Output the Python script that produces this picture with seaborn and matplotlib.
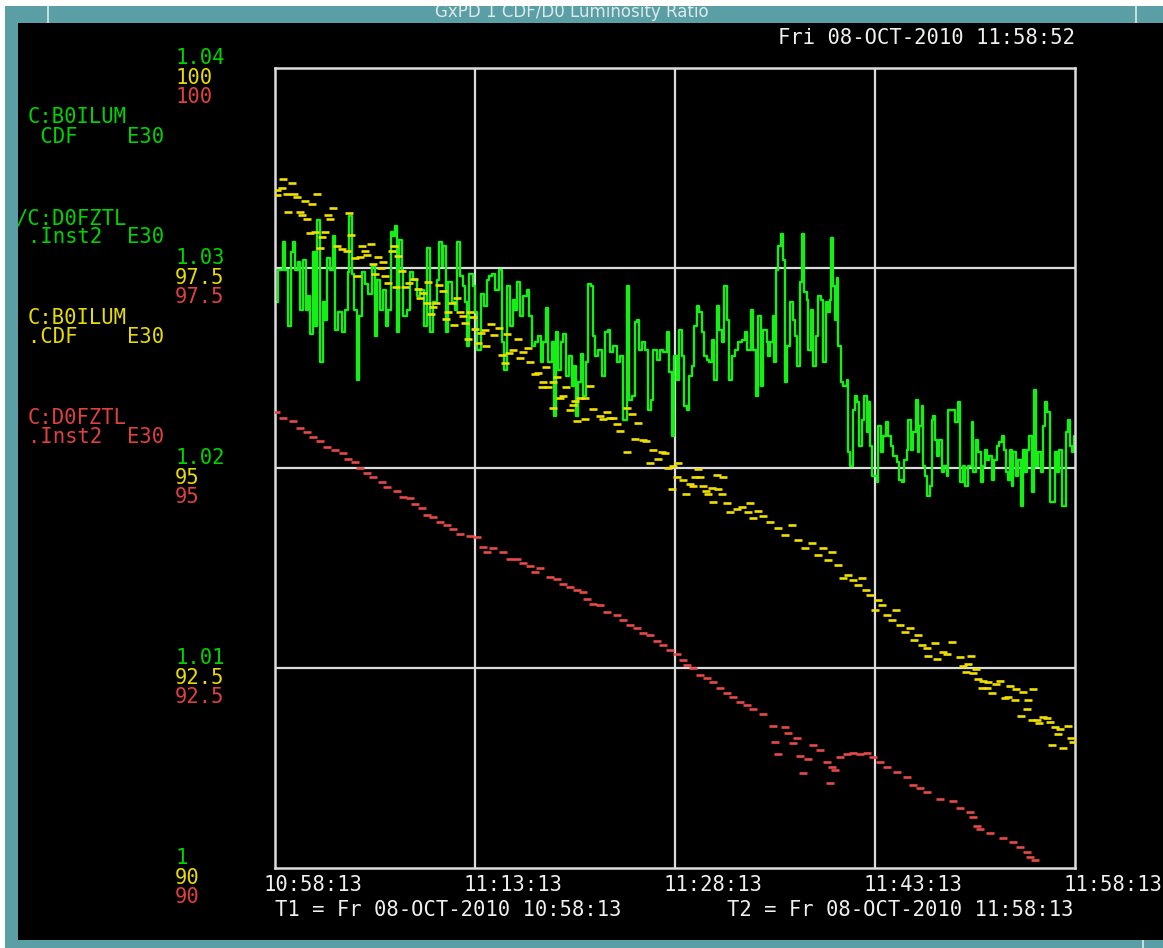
import matplotlib
matplotlib.use("Agg")
import matplotlib.pyplot as plt
import seaborn as sns
from matplotlib.patches import Rectangle
from matplotlib.transforms import ScaledTranslation, blended_transform_factory

# ---------------- data (minutes after T1 = 10:58:13) ----------------
time_ticks = [0, 15, 30, 45, 60]
time_tick_labels = ["10:58:13", "11:13:13", "11:28:13", "11:43:13", "11:58:13"]

ratio_ticks = [1.04, 1.03, 1.02, 1.01, 1.00]
ratio_tick_labels = ["1.04", "1.03", "1.02", "1.01", "1"]
lum_ticks = [100, 97.5, 95, 92.5, 90]
lum_tick_labels = ["100", "97.5", "95", "92.5", "90"]

# C:D0FZTL / C:B0ILUM ratio (green, 1.00 - 1.04)
green_time = [
    0.00, 0.23, 0.60, 0.75, 0.98, 1.20, 1.35, 1.50, 1.73, 1.88,
    2.10, 2.33, 2.48, 2.63, 2.85, 3.00, 3.15, 3.38, 3.60, 3.75,
    3.90, 4.13, 4.35, 4.50, 4.73, 5.03, 5.25, 5.48, 5.55, 5.78,
    5.93, 6.15, 6.30, 6.53, 6.75, 6.98, 7.28, 7.50, 7.65, 7.88,
    8.10, 8.33, 8.48, 8.70, 8.85, 9.00, 9.15, 9.30, 9.53, 9.60,
    9.90, 10.13, 10.35, 10.65, 10.88, 11.18, 11.40, 11.63, 11.85, 12.15,
    12.30, 12.53, 12.60, 12.83, 12.98, 13.28, 13.50, 13.65, 13.88, 14.10,
    14.25, 14.40, 14.55, 14.85, 15.00, 15.15, 15.45, 15.68, 15.90, 16.05,
    16.28, 16.50, 16.80, 17.03, 17.18, 17.40, 17.63, 17.85, 18.00, 18.15,
    18.38, 18.60, 18.90, 19.05, 19.28, 19.50, 19.73, 19.95, 20.10, 20.33,
    20.48, 20.78, 20.93, 21.08, 21.23, 21.45, 21.60, 21.83, 22.05, 22.28,
    22.43, 22.58, 22.73, 22.95, 23.10, 23.33, 23.48, 23.70, 23.85, 24.00,
    24.23, 24.53, 24.75, 24.98, 25.13, 25.35, 25.65, 25.88, 26.10, 26.40,
    26.55, 26.78, 27.00, 27.15, 27.30, 27.53, 27.75, 27.98, 28.20, 28.35,
    28.65, 28.88, 29.10, 29.40, 29.55, 29.78, 29.93, 30.00, 30.15, 30.30,
    30.53, 30.68, 30.90, 31.05, 31.28, 31.43, 31.65, 31.80, 32.03, 32.18,
    32.40, 32.55, 32.78, 32.93, 33.15, 33.30, 33.53, 33.68, 33.90, 34.05,
    34.28, 34.50, 34.73, 35.03, 35.25, 35.40, 35.70, 35.85, 36.08, 36.23,
    36.45, 36.60, 36.90, 36.98, 37.13, 37.35, 37.43, 37.58, 37.73, 37.95,
    38.10, 38.25, 38.40, 38.63, 38.85, 39.00, 39.15, 39.38, 39.53, 39.68,
    39.90, 39.98, 40.20, 40.35, 40.58, 40.73, 40.95, 41.10, 41.33, 41.48,
    41.63, 41.70, 41.85, 42.00, 42.15, 42.23, 42.45, 42.60, 42.90, 42.98,
    43.13, 43.35, 43.50, 43.65, 43.80, 44.03, 44.18, 44.40, 44.48, 44.63,
    44.78, 45.00, 45.15, 45.23, 45.45, 45.60, 45.83, 45.98, 46.20, 46.35,
    46.65, 46.80, 47.03, 47.18, 47.40, 47.48, 47.70, 47.85, 48.08, 48.23,
    48.30, 48.53, 48.60, 48.75, 48.90, 49.13, 49.28, 49.35, 49.50, 49.65,
    49.80, 50.03, 50.18, 50.40, 50.48, 50.78, 51.00, 51.23, 51.38, 51.60,
    51.75, 51.98, 52.28, 52.35, 52.58, 52.73, 52.95, 53.10, 53.25, 53.40,
    53.55, 53.78, 53.93, 54.15, 54.30, 54.53, 54.68, 54.83, 54.98, 55.13,
    55.28, 55.35, 55.58, 55.73, 55.95, 56.10, 56.25, 56.40, 56.55, 56.78,
    56.93, 57.08, 57.23, 57.45, 57.60, 57.75, 57.90, 58.13, 58.35, 58.50,
    58.65, 58.80, 59.03, 59.18, 59.33, 59.48, 59.63, 59.78, 59.93,
]
green_ratio = [
    1.0283, 1.0299, 1.0313, 1.0299, 1.0271, 1.0308, 1.0313, 1.0299, 1.0303, 1.0279,
    1.0304, 1.0279, 1.0286, 1.0267, 1.0308, 1.0271, 1.0324, 1.0253, 1.0283, 1.0274,
    1.0305, 1.0299, 1.0316, 1.0269, 1.0278, 1.0268, 1.0279, 1.0298, 1.0326, 1.0297,
    1.0279, 1.0244, 1.0276, 1.0298, 1.0292, 1.0287, 1.0301, 1.0266, 1.0294, 1.0279,
    1.0289, 1.0271, 1.0279, 1.0318, 1.0316, 1.0321, 1.0268, 1.0314, 1.0299, 1.0276,
    1.0279, 1.0298, 1.0294, 1.0286, 1.0289, 1.0271, 1.0310, 1.0268, 1.0283, 1.0294,
    1.0313, 1.0301, 1.0311, 1.0268, 1.0293, 1.0283, 1.0279, 1.0313, 1.0296, 1.0291,
    1.0283, 1.0261, 1.0297, 1.0291, 1.0278, 1.0259, 1.0287, 1.0281, 1.0294, 1.0296,
    1.0297, 1.0289, 1.0299, 1.0263, 1.0249, 1.0291, 1.0271, 1.0284, 1.0279, 1.0293,
    1.0276, 1.0286, 1.0289, 1.0276, 1.0261, 1.0263, 1.0266, 1.0253, 1.0263, 1.0280,
    1.0253, 1.0263, 1.0226, 1.0268, 1.0249, 1.0263, 1.0267, 1.0246, 1.0256, 1.0241,
    1.0251, 1.0226, 1.0243, 1.0257, 1.0236, 1.0253, 1.0292, 1.0291, 1.0266, 1.0256,
    1.0259, 1.0246, 1.0268, 1.0269, 1.0258, 1.0261, 1.0253, 1.0256, 1.0224, 1.0291,
    1.0234, 1.0236, 1.0273, 1.0274, 1.0259, 1.0263, 1.0259, 1.0229, 1.0234, 1.0259,
    1.0254, 1.0259, 1.0258, 1.0268, 1.0248, 1.0216, 1.0256, 1.0256, 1.0244, 1.0269,
    1.0256, 1.0231, 1.0229, 1.0246, 1.0251, 1.0271, 1.0281, 1.0278, 1.0268, 1.0256,
    1.0254, 1.0253, 1.0264, 1.0244, 1.0281, 1.0269, 1.0263, 1.0291, 1.0274, 1.0244,
    1.0256, 1.0259, 1.0263, 1.0264, 1.0268, 1.0259, 1.0279, 1.0259, 1.0236, 1.0276,
    1.0241, 1.0269, 1.0263, 1.0256, 1.0263, 1.0276, 1.0253, 1.0299, 1.0311, 1.0317,
    1.0304, 1.0243, 1.0261, 1.0283, 1.0274, 1.0266, 1.0251, 1.0293, 1.0317, 1.0288,
    1.0284, 1.0259, 1.0279, 1.0251, 1.0266, 1.0286, 1.0284, 1.0253, 1.0283, 1.0278,
    1.0284, 1.0315, 1.0291, 1.0274, 1.0295, 1.0261, 1.0243, 1.0241, 1.0244, 1.0208,
    1.0201, 1.0229, 1.0236, 1.0233, 1.0211, 1.0224, 1.0236, 1.0218, 1.0233, 1.0211,
    1.0196, 1.0196, 1.0193, 1.0221, 1.0208, 1.0216, 1.0223, 1.0216, 1.0211, 1.0206,
    1.0203, 1.0194, 1.0193, 1.0204, 1.0209, 1.0224, 1.0209, 1.0218, 1.0234, 1.0208,
    1.0221, 1.0231, 1.0201, 1.0196, 1.0186, 1.0191, 1.0224, 1.0226, 1.0214, 1.0206,
    1.0214, 1.0198, 1.0201, 1.0196, 1.0229, 1.0229, 1.0223, 1.0233, 1.0193, 1.0201,
    1.0191, 1.0201, 1.0223, 1.0198, 1.0214, 1.0208, 1.0193, 1.0201, 1.0209, 1.0204,
    1.0206, 1.0194, 1.0204, 1.0211, 1.0213, 1.0216, 1.0209, 1.0198, 1.0194, 1.0209,
    1.0191, 1.0208, 1.0196, 1.0204, 1.0181, 1.0209, 1.0198, 1.0209, 1.0216, 1.0188,
    1.0239, 1.0201, 1.0208, 1.0198, 1.0221, 1.0233, 1.0228, 1.0183, 1.0183, 1.0208,
    1.0198, 1.0209, 1.0181, 1.0181, 1.0218, 1.0224, 1.0211, 1.0208, 1.0216,
]

# C:B0ILUM.CDF (yellow, 90 - 100, E30)
cdf_time = [
    0.15, 0.15, 0.53, 0.60, 0.90, 0.98, 1.28, 1.43, 1.65, 1.88,
    2.03, 2.25, 2.40, 2.63, 2.78, 3.00, 3.15, 3.38, 3.53, 3.75,
    3.98, 4.13, 4.35, 4.65, 5.03, 5.40, 5.55, 5.70, 6.00, 6.15,
    6.38, 6.53, 6.75, 6.90, 7.20, 7.35, 7.50, 7.73, 7.95, 8.10,
    8.25, 8.48, 8.78, 8.93, 9.08, 9.23, 9.53, 9.75, 10.05, 10.43,
    10.73, 10.88, 11.10, 11.40, 11.48, 11.70, 11.85, 12.08, 12.30, 12.60,
    12.83, 12.98, 13.28, 13.43, 13.65, 13.88, 14.10, 14.25, 14.48, 14.63,
    14.85, 15.00, 15.23, 15.45, 15.75, 15.83, 16.20, 16.43, 16.80, 17.03,
    17.25, 17.40, 17.55, 17.85, 18.23, 18.38, 18.60, 18.98, 19.13, 19.50,
    19.73, 20.03, 20.10, 20.33, 20.48, 20.85, 20.85, 21.15, 21.38, 21.60,
    21.83, 22.13, 22.35, 22.50, 22.65, 22.88, 23.25, 23.25, 23.63, 23.85,
    24.38, 24.60, 24.90, 25.13, 25.35, 25.65, 25.88, 26.40, 26.40, 26.78,
    27.00, 27.23, 27.60, 27.83, 28.13, 28.35, 28.73, 29.03, 29.25, 29.48,
    29.85, 30.23, 29.78, 30.15, 30.60, 30.83, 31.13, 31.35, 31.50, 31.73,
    31.88, 32.10, 32.33, 32.48, 32.78, 32.85, 33.15, 33.23, 33.53, 33.60,
    33.90, 34.13, 34.65, 35.03, 35.48, 35.63, 35.85, 36.23, 36.60, 37.13,
    37.73, 38.25, 38.78, 39.23, 39.75, 40.28, 40.73, 41.10, 41.48, 41.78,
    42.23, 42.60, 42.98, 43.35, 43.73, 44.03, 44.33, 44.63, 45.00, 45.23,
    45.53, 45.90, 46.28, 46.58, 46.88, 47.25, 47.63, 47.93, 48.23, 48.53,
    48.90, 48.98, 49.50, 49.65, 50.10, 50.40, 50.78, 51.38, 51.60, 51.83,
    51.98, 52.20, 52.35, 52.58, 52.73, 53.03, 53.10, 53.40, 53.48, 53.78,
    54.08, 54.38, 54.75, 54.98, 55.13, 55.50, 55.58, 55.95, 56.10, 56.40,
    56.48, 56.78, 56.85, 57.15, 57.30, 57.60, 57.90, 58.13, 58.28, 58.50,
    58.73, 58.88, 59.10, 59.48, 59.70, 59.85,
]
cdf_lum = [
    98.48, 98.41, 98.50, 98.61, 98.43, 98.20, 98.56, 98.43, 98.39, 98.20,
    98.16, 98.34, 98.11, 97.94, 98.30, 97.95, 98.43, 97.75, 97.89, 97.95,
    98.16, 98.11, 98.25, 97.78, 97.74, 97.71, 98.19, 97.91, 97.63, 97.40,
    97.64, 97.78, 97.71, 97.66, 97.80, 97.55, 97.43, 97.64, 97.50, 97.58,
    97.40, 97.31, 97.71, 97.78, 97.26, 97.65, 97.46, 97.26, 97.31, 97.36,
    97.24, 97.13, 97.19, 97.06, 97.33, 96.93, 97.01, 97.06, 97.29, 97.21,
    96.86, 96.95, 97.06, 96.79, 97.13, 96.95, 96.90, 96.81, 96.61, 96.95,
    96.89, 96.74, 96.56, 96.69, 96.73, 96.53, 96.80, 96.66, 96.75, 96.41,
    96.31, 96.68, 96.44, 96.48, 96.61, 96.38, 96.45, 96.50, 96.33, 96.18,
    96.19, 96.01, 96.08, 96.26, 96.01, 96.08, 95.75, 96.14, 95.88, 95.90,
    96.01, 95.73, 95.79, 95.84, 95.59, 95.88, 95.88, 95.61, 96.03, 95.74,
    95.65, 95.61, 95.70, 95.63, 95.63, 95.55, 95.46, 95.75, 95.20, 95.68,
    95.36, 95.56, 95.35, 95.34, 95.06, 95.23, 95.11, 95.20, 95.19, 95.00,
    95.03, 95.06, 94.74, 94.89, 94.85, 94.68, 94.80, 94.78, 94.89, 94.99,
    94.89, 94.78, 94.71, 94.68, 94.75, 94.58, 94.91, 94.74, 94.68, 94.89,
    94.56, 94.45, 94.49, 94.51, 94.45, 94.56, 94.38, 94.46, 94.40, 94.33,
    94.25, 94.16, 94.29, 94.10, 94.00, 94.06, 93.91, 94.00, 93.85, 93.95,
    93.79, 93.63, 93.66, 93.60, 93.54, 93.63, 93.48, 93.41, 93.23, 93.35,
    93.29, 93.16, 93.10, 93.23, 93.04, 92.95, 93.00, 92.85, 92.91, 92.79,
    92.75, 92.65, 92.81, 92.61, 92.70, 92.68, 92.83, 92.64, 92.53, 92.45,
    92.55, 92.65, 92.44, 92.49, 92.36, 92.25, 92.34, 92.25, 92.33, 92.19,
    92.30, 92.34, 92.13, 92.14, 92.28, 92.10, 92.24, 91.90, 92.20, 91.99,
    92.10, 91.85, 92.24, 91.85, 91.81, 91.89, 91.88, 91.83, 91.54, 91.76,
    91.68, 91.74, 91.50, 91.78, 91.63, 91.58,
]

# C:D0FZTL.Inst2 (red, 90 - 100, E30)
d0_time = [
    0.08, 0.60, 1.35, 1.88, 2.40, 2.85, 3.38, 3.90, 4.50, 5.10,
    5.48, 6.00, 6.38, 6.90, 7.35, 8.03, 8.40, 9.15, 9.60, 10.13,
    10.50, 11.03, 11.40, 11.85, 12.38, 12.90, 13.35, 13.88, 14.63, 15.15,
    15.60, 15.90, 16.35, 17.10, 17.63, 18.15, 18.60, 19.13, 19.50, 19.88,
    20.63, 21.15, 21.60, 22.13, 22.65, 23.10, 23.40, 23.85, 24.38, 24.90,
    25.65, 26.10, 26.63, 27.15, 27.60, 28.13, 28.65, 29.10, 29.63, 30.15,
    30.60, 30.90, 31.35, 31.88, 32.40, 32.85, 33.38, 33.90, 34.35, 34.88,
    35.40, 35.85, 36.60, 37.35, 37.50, 37.73, 38.25, 38.48, 38.85, 39.15,
    39.38, 39.60, 39.98, 40.35, 40.88, 41.40, 41.63, 41.78, 42.00, 42.38,
    42.90, 43.35, 43.88, 44.40, 44.85, 45.38, 45.90, 46.65, 47.40, 47.85,
    48.38, 48.90, 49.88, 50.85, 51.38, 52.13, 52.35, 52.65, 52.88, 53.63,
    54.60, 55.35, 55.88, 56.40, 56.63, 57.00,
]
d0_lum = [
    95.70, 95.63, 95.59, 95.50, 95.45, 95.39, 95.34, 95.26, 95.23, 95.19,
    95.11, 95.08, 95.00, 94.94, 94.89, 94.83, 94.76, 94.71, 94.64, 94.63,
    94.55, 94.50, 94.41, 94.39, 94.33, 94.29, 94.24, 94.18, 94.15, 94.14,
    94.01, 93.95, 94.00, 93.95, 93.86, 93.86, 93.81, 93.78, 93.70, 93.75,
    93.64, 93.61, 93.55, 93.51, 93.48, 93.45, 93.36, 93.30, 93.29, 93.20,
    93.16, 93.10, 93.04, 93.00, 92.94, 92.91, 92.84, 92.79, 92.73, 92.68,
    92.60, 92.54, 92.50, 92.41, 92.38, 92.33, 92.25, 92.19, 92.14, 92.08,
    92.04, 91.99, 91.93, 91.78, 91.58, 91.43, 91.76, 91.69, 91.56, 91.63,
    91.40, 91.19, 91.36, 91.54, 91.48, 91.33, 91.06, 91.26, 91.23, 91.39,
    91.43, 91.44, 91.43, 91.44, 91.39, 91.33, 91.26, 91.20, 91.14, 91.04,
    91.00, 90.95, 90.86, 90.84, 90.75, 90.70, 90.64, 90.53, 90.49, 90.44,
    90.38, 90.33, 90.26, 90.20, 90.14, 90.10,
]

# ---------------- style ----------------
sns.set_theme(style="dark")
plt.rcParams["font.family"] = ["DejaVu Sans Mono", "DejaVu Sans"]

GREEN_LINE = "#14f014"
GREEN_TXT = "#00d400"
YELLOW = "#f0e000"
YELLOW_TXT = "#e8dc00"
RED = "#e84848"
RED_TXT = "#e04040"
WHITE = "#f0f0f0"
TEAL = "#5a9fa6"
FS = 14.8

W, H = 1163, 948
fig = plt.figure(figsize=(W / 100, H / 100), dpi=100, facecolor="black")


def fx(x):
    return x / W


def fy(y):
    return 1 - y / H


ax = fig.add_axes([fx(275), fy(868), 800 / W, 800 / H])
ax.set_facecolor("black")
ax2 = ax.twinx()
ax2.set_facecolor("none")

# grid
for t in time_ticks[1:-1]:
    ax.axvline(t, color="#dcdcdc", lw=1.6, zorder=0.5)
for r in ratio_ticks[1:-1]:
    ax.axhline(r, color="#dcdcdc", lw=1.6, zorder=0.5)
for s in ax.spines.values():
    s.set_visible(True)
    s.set_color("#dcdcdc")
    s.set_linewidth(1.8)
for s in ax2.spines.values():
    s.set_visible(False)

# green ratio line (steps)
sns.lineplot(x=green_time, y=green_ratio, ax=ax, color=GREEN_LINE, lw=1.7,
             drawstyle="steps-post", estimator=None, sort=False, zorder=2)

# yellow and red dashes
sns.scatterplot(x=cdf_time, y=cdf_lum, ax=ax2, marker="_", s=26,
                linewidth=1.9, color=YELLOW, zorder=3)
sns.scatterplot(x=d0_time, y=d0_lum, ax=ax2, marker="_", s=30,
                linewidth=1.9, color=RED, zorder=3)

ax.set_xlim(0, 60)
ax.set_ylim(1.00, 1.04)
ax2.set_ylim(90, 100)
ax.set_yticks([])
ax2.set_yticks([])
ax.set_xlabel("")
ax.set_ylabel("")
ax2.set_ylabel("")
ax.grid(False)
ax2.grid(False)

ax.set_xticks(time_ticks)
ax.set_xticklabels(time_tick_labels)
ax.tick_params(axis="x", length=0, pad=5, labelsize=FS, labelcolor=WHITE)
shift = ScaledTranslation(-12 / 100, 0, fig.dpi_scale_trans)
for lbl in ax.get_xticklabels():
    lbl.set_horizontalalignment("left")
    lbl.set_transform(lbl.get_transform() + shift)

# stacked y labels at left (green / yellow / red)
def off(dy_px):
    return ScaledTranslation(0, dy_px / 100, fig.dpi_scale_trans)

tr_g = blended_transform_factory(fig.transFigure, ax.transData)
tr_l = blended_transform_factory(fig.transFigure, ax2.transData)
for v, s in zip(ratio_ticks, ratio_tick_labels):
    fig.text(fx(175), v, s, transform=tr_g + off(10), color=GREEN_TXT,
             fontsize=FS, va="center", ha="left")
for v, s in zip(lum_ticks, lum_tick_labels):
    fig.text(fx(175), v, s, transform=tr_l + off(-10), color=YELLOW_TXT,
             fontsize=FS, va="center", ha="left")
    fig.text(fx(175), v, s, transform=tr_l + off(-29), color=RED_TXT,
             fontsize=FS, va="center", ha="left")

# channel labels
fig.text(fx(28), fy(117), "C:B0ILUM", color=GREEN_TXT, fontsize=FS, va="center")
fig.text(fx(28), fy(137), " CDF    E30", color=GREEN_TXT, fontsize=FS, va="center")
fig.text(fx(16), fy(218), "/C:D0FZTL", color=GREEN_TXT, fontsize=FS, va="center")
fig.text(fx(28), fy(237), ".Inst2  E30", color=GREEN_TXT, fontsize=FS, va="center")
fig.text(fx(28), fy(318), "C:B0ILUM", color=YELLOW_TXT, fontsize=FS, va="center")
fig.text(fx(28), fy(337), ".CDF    E30", color=YELLOW_TXT, fontsize=FS, va="center")
fig.text(fx(28), fy(418), "C:D0FZTL", color=RED_TXT, fontsize=FS, va="center")
fig.text(fx(28), fy(437), ".Inst2  E30", color=RED_TXT, fontsize=FS, va="center")

# date / time texts
fig.text(fx(778), fy(38), "Fri 08-OCT-2010 11:58:52", color=WHITE, fontsize=FS, va="center")
fig.text(fx(275), fy(910), "T1 = Fr 08-OCT-2010 10:58:13", color=WHITE, fontsize=FS, va="center")
fig.text(fx(727), fy(910), "T2 = Fr 08-OCT-2010 11:58:13", color=WHITE, fontsize=FS, va="center")

# window frame
def rect(x0, y0, x1, y1, color, z=10):
    fig.add_artist(Rectangle((fx(x0), fy(y1)), fx(x1) - fx(x0), fy(y0) - fy(y1),
                             transform=fig.transFigure, facecolor=color,
                             edgecolor="none", zorder=z))

rect(0, 6, W, 23, TEAL)
rect(5, 6, 18, H, TEAL)
rect(18, 940, W, H, TEAL)
rect(0, 0, W, 6, "white", z=12)
rect(0, 0, 5, H, "white", z=12)
rect(47, 6, 49, 23, "#c8dcdc", z=11)
rect(1135, 6, 1137, 23, "#c8dcdc", z=11)
rect(1142, 940, 1144, H, "#c8dcdc", z=11)
fig.text(fx(572), fy(12), "GxPD 1 CDF/D0 Luminosity Ratio", color="#dfe9e9",
         fontsize=12, family="DejaVu Sans", ha="center", va="center", zorder=11)

fig.savefig("out.png", dpi=100, facecolor="black")
